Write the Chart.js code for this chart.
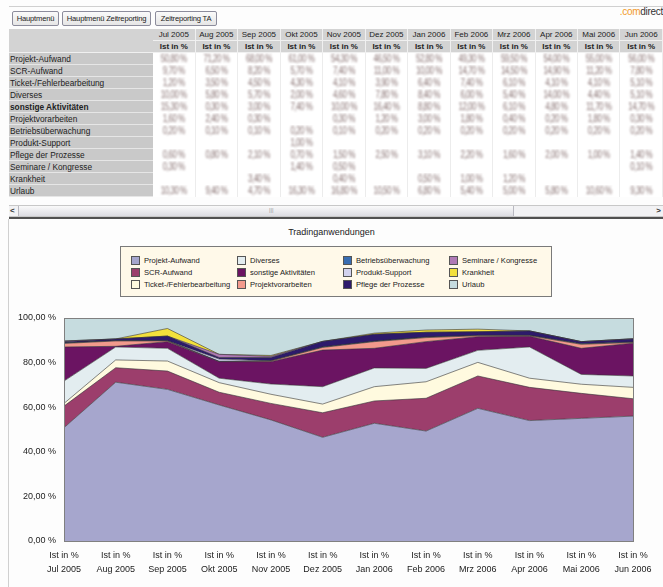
<!DOCTYPE html>
<html>
<head>
    <title>Tradinganwendungen</title>
    <style>
        body { margin: 0; width: 663px; height: 587px; overflow: hidden; background: #fdfdfd; font-family: "Liberation Sans", Arial, sans-serif; position: relative; }
        .topline { position: absolute; left: 9px; top: 6px; width: 654px; border-top: 1px solid #d0d0d0; }
        .btn { position: absolute; top: 11px; height: 13px; line-height: 13px; font-size: 7.6px; color: #222; text-align: center; white-space: nowrap; letter-spacing: -0.2px;
               border: 1px solid #8c8c9c; border-radius: 2px; background: linear-gradient(#fafafa, #e6e6e6); }
        .logo { position: absolute; right: 0; top: 6px; font-size: 10px; letter-spacing: -0.3px; color: #333; }
        .logo span { color: #f19a2b; }
        .tablewrap { position: absolute; left: 9px; top: 29px; width: 654px; height: 170px; overflow: hidden; }
        table { border-collapse: collapse; table-layout: fixed; }
        td, th { padding: 0; height: 11px; font-size: 8px; white-space: nowrap; overflow: hidden; }
        th { background: #d3d3d3; font-weight: normal; color: #222; border-right: 1px solid #f0f0f0; border-bottom: 1px solid #f0f0f0; text-align: center; }
        th.sub { font-weight: bold; }
        td.lab { background: #c9c9c9; color: #222; font-size: 8.3px; padding-left: 1px; border-bottom: 1px solid #e6e6e6; }
        td.lab.bold { font-weight: bold; }
        td.val { background: #fff; border-right: 1px solid #ececec; text-align: center; }
        td.val span { display: inline-block; color: #8a7474; filter: blur(0.9px); letter-spacing: -0.5px; transform: scaleY(1.4); }
        .scroll { position: absolute; left: 9px; top: 205px; width: 654px; height: 10px; background: #f2f2f4; border-top: 1px solid #c8c8c8; border-bottom: 1px solid #c8c8c8; }
        .scroll .thumb { position: absolute; left: 9px; top: 0; width: 494px; height: 10px; background: linear-gradient(#fafafa, #dcdce2); border: 1px solid #b8b8c0; border-top: 0; border-bottom: 0; }
        .scroll .grip { position: absolute; left: 250px; top: 1px; font-size: 6px; color: #999; }
        .scroll .l, .scroll .r { position: absolute; top: 0; font-size: 8px; font-weight: bold; color: #333; line-height: 10px; }
        .scroll .l { left: 1px; } .scroll .r { right: 2px; }
        .divider { position: absolute; left: 9px; top: 217px; width: 654px; height: 2px; background: #505050; }
        .leftline { position: absolute; left: 8px; top: 219px; height: 368px; border-left: 1px solid #d0d0d0; }
        .title { position: absolute; left: 0; width: 663px; top: 227px; text-align: center; font-size: 9px; color: #222; }
        .legend { position: absolute; left: 120px; top: 246px; width: 432px; height: 51px; background: #fff9e9; border: 1px solid #7a7a7a;
                  display: grid; grid-auto-flow: column; grid-template-rows: repeat(3, 12px); grid-template-columns: 106px 106px 106px 106px;
                  padding: 9px 0 0 10px; box-sizing: border-box; }
        .legend div { font-size: 7.6px; color: #222; line-height: 10px; white-space: nowrap; }
        .legend i { display: inline-block; width: 7px; height: 7px; border: 1px solid #555; vertical-align: -2px; margin-right: 4px; }
        .chartbox { position: absolute; left: 10px; top: 305px; width: 653px; height: 282px; }
    </style>
    <script src="https://cdn.jsdelivr.net/npm/chart.js"></script>
</head>
<body>
    <div class="topline"></div>
    <div class="btn" style="left:12px;width:45px;">Hauptmenü</div>
    <div class="btn" style="left:62px;width:87px;">Hauptmenü Zeitreporting</div>
    <div class="btn" style="left:155px;width:60px;">Zeitreporting TA</div>
    <div class="logo"><span>.com</span>direct</div>

    <div class="tablewrap"><table id="tbl"></table></div>

    <div class="scroll">
        <div class="l">&lt;</div>
        <div class="thumb"><div class="grip">|||</div></div>
        <div class="r">&gt;</div>
    </div>
    <div class="divider"></div>
    <div class="leftline"></div>

    <div class="title">Tradinganwendungen</div>
    <div class="legend" id="legend"></div>

    <div class="chartbox">
        <canvas id="myChart" width="653" height="282"></canvas>
    </div>

    <script>
        // categories
        const months = ['Jul 2005', 'Aug 2005', 'Sep 2005', 'Okt 2005', 'Nov 2005', 'Dez 2005',
                        'Jan 2006', 'Feb 2006', 'Mrz 2006', 'Apr 2006', 'Mai 2006', 'Jun 2006'];
        const measure = 'Ist in %';

        // series values (percent of total time)
        const projektAufwand      = [50.8, 71.2, 68.0, 61.0, 54.3, 46.5, 52.8, 49.3, 59.5, 54.0, 55.0, 56.0];
        const scrAufwand          = [ 9.7,  6.5,  8.2,  5.7,  7.4, 11.0, 10.0, 14.7, 14.5, 14.9, 11.2,  7.8];
        const ticketFehler        = [ 1.2,  3.5,  4.5,  4.3,  4.1,  3.9,  6.4,  7.4,  6.1,  4.1,  4.1,  5.1];
        const diverses            = [10.0,  5.8,  5.7,  2.0,  4.6,  7.8,  8.4,  6.0,  5.4, 14.0,  4.4,  5.1];
        const sonstigeAktiv       = [15.3,  0.3,  3.0,  7.4, 10.0, 16.4,  8.8, 12.0,  6.1,  4.8, 11.7, 14.7];
        const projektvorarbeiten  = [ 1.6,  2.4,  0.3,  0.0,  0.3,  1.2,  3.0,  1.8,  0.4,  0.2,  1.8,  0.3];
        const betriebsueberwachung= [ 0.2,  0.1,  0.1,  0.2,  0.1,  0.2,  0.2,  0.2,  0.2,  0.2,  0.2,  0.2];
        const produktSupport      = [ 0.0,  0.0,  0.0,  1.0,  0.0,  0.0,  0.0,  0.0,  0.0,  0.0,  0.0,  0.0];
        const pflegeProzesse      = [ 0.6,  0.8,  2.1,  0.7,  1.5,  2.5,  3.1,  2.2,  1.6,  2.0,  1.0,  1.4];
        const seminare            = [ 0.3,  0.0,  0.0,  1.4,  0.5,  0.0,  0.0,  0.0,  0.0,  0.0,  0.0,  0.1];
        const krankheit           = [ 0.0,  0.0,  3.4,  0.0,  0.4,  0.0,  0.5,  1.0,  1.2,  0.0,  0.0,  0.0];
        const urlaub              = [10.3,  9.4,  4.7, 16.3, 16.8, 10.5,  6.8,  5.4,  5.0,  5.8, 10.6,  9.3];

        const seriesNames = ['Projekt-Aufwand', 'SCR-Aufwand', 'Ticket-/Fehlerbearbeitung', 'Diverses',
                             'sonstige Aktivitäten', 'Projektvorarbeiten', 'Betriebsüberwachung', 'Produkt-Support',
                             'Pflege der Prozesse', 'Seminare / Kongresse', 'Krankheit', 'Urlaub'];
        const seriesValues = [projektAufwand, scrAufwand, ticketFehler, diverses, sonstigeAktiv, projektvorarbeiten,
                              betriebsueberwachung, produktSupport, pflegeProzesse, seminare, krankheit, urlaub];
        const seriesColors = ['#a6a6cd', '#9c3e6c', '#fffadf', '#e3edf0', '#6b1462', '#f29a8c',
                              '#386db2', '#d2d2ee', '#2d1a6b', '#b07ab5', '#f3e03c', '#c6dcdf'];

        const fmt = v => v.toFixed(2).replace('.', ',') + ' %';

        // table above the chart
        const tbl = document.getElementById('tbl');
        let html = '<colgroup><col style="width:147px">' + months.map(() => '<col style="width:43px">').join('') + '</colgroup>';
        html += '<tr><th rowspan="2" style="border-right:0"></th>' + months.map(m => `<th>${m}</th>`).join('') + '</tr>';
        html += '<tr>' + months.map(() => `<th class="sub">${measure}</th>`).join('') + '</tr>';
        seriesNames.forEach((name, i) => {
            const cls = name === 'sonstige Aktivitäten' ? 'lab bold' : 'lab';
            html += `<tr><td class="${cls}">${name}</td>` +
                seriesValues[i].map(v => `<td class="val">${v > 0 ? '<span>' + fmt(v) + '</span>' : ''}</td>`).join('') + '</tr>';
        });
        tbl.innerHTML = html;

        // boxed legend, filled column by column
        document.getElementById('legend').innerHTML = seriesNames
            .map((n, i) => `<div><i style="background:${seriesColors[i]}"></i>${n}</div>`).join('');

        const plotFrame = {
            id: 'plotFrame',
            afterDraw(chart) {
                const a = chart.chartArea, c = chart.ctx;
                c.save();
                c.strokeStyle = '#808080';
                c.lineWidth = 1;
                c.strokeRect(Math.round(a.left) + 0.5, Math.round(a.top) + 0.5, Math.round(a.right - a.left), Math.round(a.bottom - a.top));
                c.restore();
            }
        };

        const ctx = document.getElementById('myChart').getContext('2d');
        new Chart(ctx, {
            type: 'line',
            data: {
                labels: months.map(m => [measure, m]),
                datasets: seriesNames.map((n, i) => ({
                    label: n,
                    data: seriesValues[i],
                    backgroundColor: seriesColors[i],
                    borderColor: 'rgba(50,50,50,0.75)',
                    borderWidth: 0.8,
                    pointRadius: 0,
                    tension: 0,
                    fill: i === 0 ? 'origin' : '-1'
                }))
            },
            options: {
                responsive: false,
                animation: false,
                layout: { padding: { top: 13, right: 30, left: 0, bottom: 0 } },
                plugins: { legend: { display: false }, tooltip: { enabled: false } },
                scales: {
                    x: {
                        offset: false,
                        grid: { display: false, drawTicks: true, tickLength: 4, tickColor: '#333' },
                        border: { color: '#333' },
                        ticks: { color: '#222', font: { size: 9, family: 'Liberation Sans', lineHeight: 1.55 }, padding: 4, maxRotation: 0, autoSkip: false },
                        afterFit: s => { s.height = 46; }
                    },
                    y: {
                        stacked: true,
                        min: 0, max: 100,
                        grid: { display: false, drawTicks: true, tickLength: 4, tickColor: '#333' },
                        border: { color: '#333' },
                        ticks: { stepSize: 20, color: '#222', font: { size: 9, family: 'Liberation Sans' }, padding: 4, callback: v => fmt(v) },
                        afterFit: s => { s.width = 54; }
                    }
                }
            },
            plugins: [plotFrame]
        });
    </script>
</body>
</html>
